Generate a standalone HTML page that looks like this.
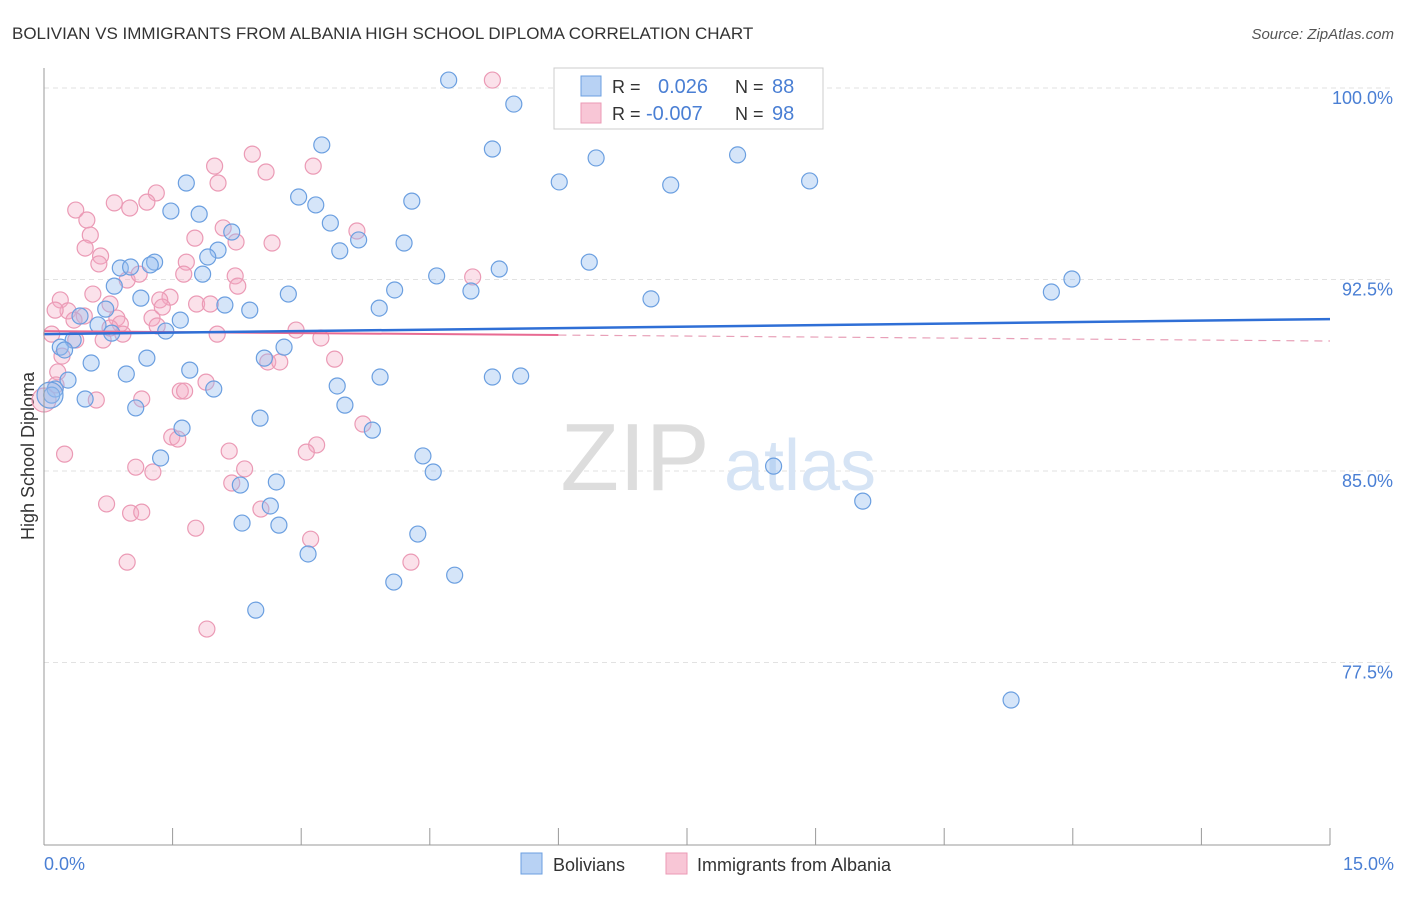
<!DOCTYPE html>
<html><head><meta charset="utf-8"><style>
body{margin:0;background:#fff;font-family:"Liberation Sans",sans-serif;}
svg text{font-family:"Liberation Sans",sans-serif;}
</style></head><body>
<svg id="chart" width="1406" height="892">
<text x="12" y="39" font-size="17" fill="#333">BOLIVIAN VS IMMIGRANTS FROM ALBANIA HIGH SCHOOL DIPLOMA CORRELATION CHART</text>
<text x="1394" y="39" font-size="15" fill="#555" font-style="italic" text-anchor="end">Source: ZipAtlas.com</text>
<text transform="translate(34,456) rotate(-90)" font-size="18" fill="#333" text-anchor="middle">High School Diploma</text>
<g id="grid"></g>
<g>
<text x="635" y="490" font-size="96" fill="#ddd" font-family="Liberation Serif" text-anchor="middle">ZIP</text>
<text x="800" y="490" font-size="72" fill="#d6e4f5" text-anchor="middle">atlas</text>
</g>
<g id="points"></g>
<g id="lines"></g>
<line x1="44" y1="68" x2="44" y2="845" stroke="#999"/>
<line x1="44" y1="845" x2="1330" y2="845" stroke="#999"/>
<text x="44" y="870" font-size="18" fill="#4a7fd4">0.0%</text>
<text x="1394" y="870" font-size="18" fill="#4a7fd4" text-anchor="end">15.0%</text>
<g>
<rect x="554" y="68" width="269" height="61" fill="#fff" stroke="#ccc"/>
<rect x="581" y="76" width="20" height="20" fill="#b8d2f4" stroke="#6b9fe0"/>
<rect x="581" y="103" width="20" height="20" fill="#f8c6d6" stroke="#eb9ab5"/>
<text x="612" y="93" font-size="18" fill="#333">R =</text>
<text x="658" y="93" font-size="20" fill="#4a7fd4">0.026</text>
<text x="735" y="93" font-size="18" fill="#333">N =</text>
<text x="772" y="93" font-size="20" fill="#4a7fd4">88</text>
<text x="612" y="120" font-size="18" fill="#333">R =</text>
<text x="646" y="120" font-size="20" fill="#4a7fd4">-0.007</text>
<text x="735" y="120" font-size="18" fill="#333">N =</text>
<text x="772" y="120" font-size="20" fill="#4a7fd4">98</text>
</g>
<g>
<rect x="521" y="853" width="21" height="21" fill="#b8d2f4" stroke="#6b9fe0"/>
<text x="553" y="871" font-size="18" fill="#333">Bolivians</text>
<rect x="666" y="853" width="21" height="21" fill="#f8c6d6" stroke="#eb9ab5"/>
<text x="697" y="871" font-size="18" fill="#333">Immigrants from Albania</text>
</g>
</svg>
<script>
const yTicks=[100,92.5,85,77.5];
const yTickLabels=["100.0%","92.5%","85.0%","77.5%"];
const xTicks=[0,1.5,3,4.5,6,7.5,9,10.5,12,13.5,15];
const blueX=[4.72,5.48,3.24,5.23,6.44,8.09,6.01,7.31,8.93,1.66,2.97,3.17,4.29,1.48,1.81,3.34,2.19,3.67,4.20,2.03,3.45,1.91,6.36,0.89,1.01,1.29,1.24,5.31,4.58,11.99,11.75,1.85,0.82,4.09,4.98,2.85,7.08,1.13,2.11,2.40,3.91,0.72,0.42,0.63,1.59,1.42,0.79,0.34,0.19,0.24,1.20,2.57,2.80,0.55,1.70,0.96,3.92,5.23,5.56,0.28,3.42,1.98,0.13,0.09,0.48,3.51,1.07,2.52,3.83,1.61,4.42,1.36,4.54,8.51,2.29,2.71,2.64,9.55,2.31,2.74,4.36,3.08,4.08,4.79,2.47,11.28,0.07];
const blueY=[100.31,99.37,97.77,97.61,97.26,97.38,96.32,96.20,96.36,96.28,95.73,95.42,95.57,95.18,95.06,94.71,94.36,94.05,93.93,93.65,93.62,93.38,93.18,92.95,92.99,93.18,93.07,92.91,92.64,92.52,92.01,92.71,92.24,92.09,92.05,91.93,91.74,91.77,91.50,91.30,91.38,91.34,91.07,90.72,90.91,90.48,90.40,90.13,89.85,89.74,89.42,89.42,89.85,89.23,88.95,88.80,88.68,88.68,88.72,88.56,88.33,88.21,88.21,87.97,87.82,87.58,87.47,87.07,86.60,86.68,85.59,85.51,84.96,85.19,84.45,84.57,83.63,83.82,82.96,82.88,82.53,81.75,80.65,80.92,79.55,76.03,87.97];
const pinkX=[5.23,2.43,1.99,3.14,2.59,2.03,1.31,1.20,0.82,1.00,0.37,0.50,0.54,1.76,2.09,2.24,2.66,3.65,0.48,0.66,0.64,1.66,1.63,2.23,0.97,2.26,1.11,5.00,0.57,1.47,1.78,1.94,0.19,0.28,0.13,0.77,0.47,1.35,1.38,1.26,0.85,0.35,0.89,1.32,2.94,3.23,2.02,0.69,0.92,0.09,0.37,0.77,0.21,3.39,2.61,2.75,1.89,1.59,1.64,0.16,1.14,0.61,3.72,1.49,1.56,3.18,3.06,2.16,0.24,1.07,1.27,2.34,2.19,0.73,1.01,1.14,2.53,1.77,3.11,0.97,4.28,1.90,0.0,0.14];
const pinkY=[100.31,97.41,96.94,96.94,96.71,96.28,95.89,95.53,95.50,95.30,95.22,94.83,94.24,94.12,94.52,93.97,93.93,94.40,93.73,93.42,93.11,93.18,92.71,92.64,92.48,92.24,92.71,92.60,91.93,91.81,91.54,91.54,91.70,91.27,91.30,91.54,91.07,91.70,91.42,90.99,90.99,90.91,90.76,90.68,90.52,90.21,90.36,90.13,90.36,90.36,90.13,90.60,89.50,89.38,89.27,89.27,88.48,88.13,88.13,88.88,87.82,87.78,86.84,86.33,86.25,86.02,85.74,85.78,85.66,85.15,84.96,85.08,84.53,83.71,83.35,83.39,83.51,82.76,82.33,81.43,81.43,78.81,87.78,88.37];
const blueTrend=[90.36,90.95];
const pinkTrend=[90.48,90.09];
const NS="http://www.w3.org/2000/svg";
const xs=v=>44+v/15*1286;
const ys=v=>88+(100-v)*25.533;
function mk(t,a,p){const e=document.createElementNS(NS,t);for(const k in a)e.setAttribute(k,a[k]);p.appendChild(e);return e;}
const grid=document.getElementById('grid');
yTicks.forEach((t,i)=>{
 const l=mk('line',{x1:44,x2:1394,y1:ys(t),y2:ys(t),stroke:'#e2e2e2','stroke-dasharray':'5,4'},grid);
 
 
 const tx=mk('text',{x:1393,y:ys(t)+16,'font-size':18,fill:'#4a7fd4','text-anchor':'end'},grid);
 tx.textContent=yTickLabels[i];
 
 
});
xTicks.forEach(t=>{
 const l=mk('line',{x1:xs(t),x2:xs(t),y1:828,y2:845,stroke:'#999'},grid);
 
 
});
const pts=document.getElementById('points');
pinkX.forEach((x,i)=>{
 const big=i>=pinkX.length-2&&x<0.05;
 const c=mk('circle',{cx:xs(x),cy:ys(pinkY[i]),r:big?12:8,fill:'rgba(244,170,196,0.35)',stroke:'#eb9ab5','stroke-width':1.2},pts);
 
 
});
blueX.forEach((x,i)=>{
 const big=i===blueX.length-1;
 const c=mk('circle',{cx:xs(x),cy:ys(blueY[i]),r:big?13:8,fill:'rgba(150,190,240,0.4)',stroke:'#6b9fe0','stroke-width':1.2},pts);
 
 
});
const ln=document.getElementById('lines');
const py=x=>pinkTrend[0]+(pinkTrend[1]-pinkTrend[0])*x/15;
const p1=mk('line',{x1:xs(0),y1:ys(pinkTrend[0]),x2:xs(6),y2:ys(py(6)),stroke:'#e86a92','stroke-width':2},ln);


const p2=mk('line',{x1:xs(6),y1:ys(py(6)),x2:xs(15),y2:ys(pinkTrend[1]),stroke:'#e8a0b8','stroke-width':1.2,'stroke-dasharray':'8,6'},ln);


const b1=mk('line',{x1:xs(0),y1:ys(blueTrend[0]),x2:xs(15),y2:ys(blueTrend[1]),stroke:'#2f6fd6','stroke-width':2.5},ln);


</script>
</body></html>
